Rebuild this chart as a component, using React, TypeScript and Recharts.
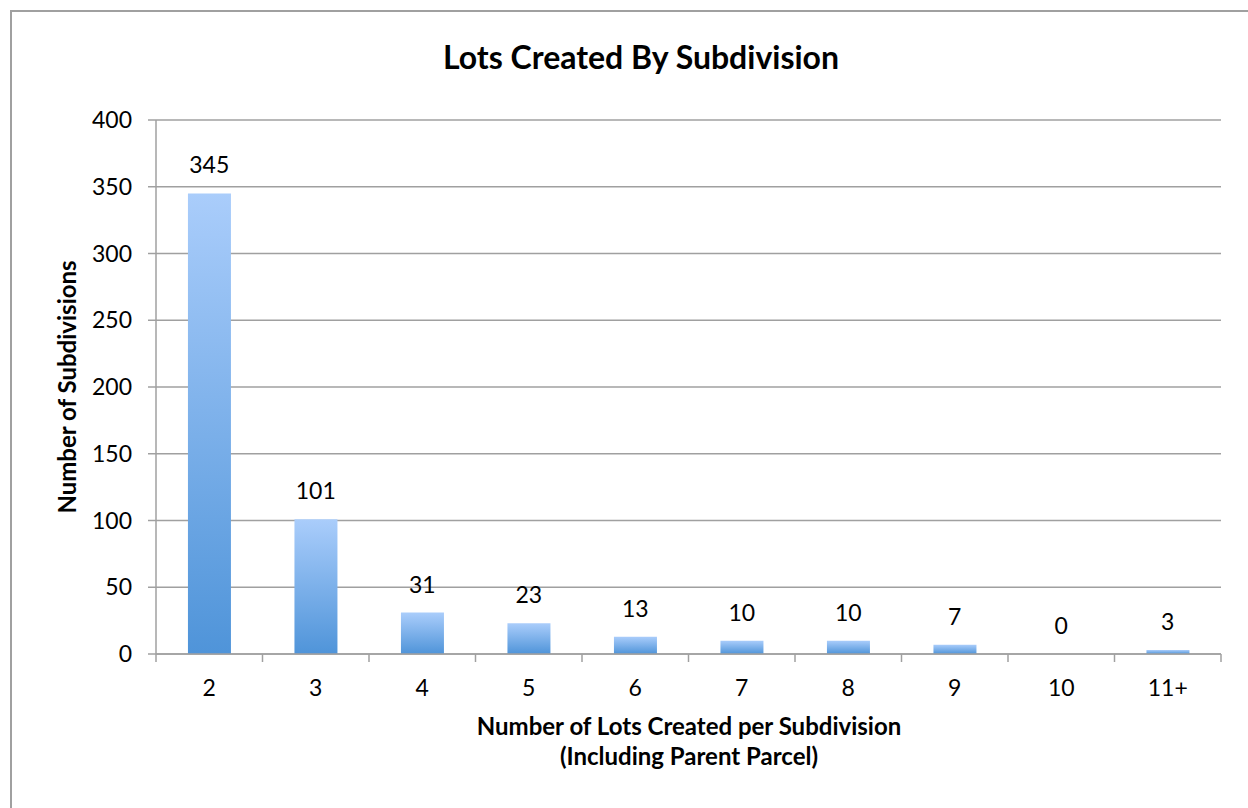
import React from "react";
import {
  ComposedChart,
  Bar,
  Line,
  XAxis,
  YAxis,
  CartesianGrid,
  LabelList,
} from "recharts";

// Lots created by subdivision: one bar per lot count, count of subdivisions on y

const categories = ["2", "3", "4", "5", "6", "7", "8", "9", "10", "11+"];
const subdivisions = [345, 101, 31, 23, 13, 10, 10, 7, 0, 3];
const yTicks = [0, 50, 100, 150, 200, 250, 300, 350, 400];

const data = categories.map((name, i) => ({ name, value: subdivisions[i] }));

const FONT = "Lato, 'Open Sans', sans-serif";
const GRID = "#a0a0a0";

const CHART_W = 1230;
const CHART_H = 790;
const X_AXIS_H = 60;
const MARGIN = { top: 108, right: 21, bottom: 148 - X_AXIS_H, left: 74 };
const Y_AXIS_W = 70;
const BAND = (CHART_W - MARGIN.left - Y_AXIS_W - MARGIN.right) / categories.length;

// x tick: label under the category, tick mark on the boundary between categories (like Excel)
const XTick = (props: any) => {
  const { x, y, payload, index } = props;
  const last = index === categories.length - 1;
  return (
    <g>
      <line x1={x - BAND / 2} x2={x - BAND / 2} y1={y - 8} y2={y} stroke={GRID} strokeWidth={1.5} />
      {last && (
        <line x1={x + BAND / 2} x2={x + BAND / 2} y1={y - 8} y2={y} stroke={GRID} strokeWidth={1.5} />
      )}
      <text x={x} y={y + 34} textAnchor="middle" fontSize={23} fontFamily={FONT} fill="#000">
        {payload.value}
      </text>
    </g>
  );
};

const App = () => {
  return (
    <div style={{ position: "fixed", left: 0, top: 0, width: 1248, height: 808, overflow: "hidden", background: "#fff" }}>
      <div
        style={{
          position: "absolute",
          left: 10,
          top: 10,
          width: 1264,
          height: 820,
          border: `2px solid ${GRID}`,
          boxSizing: "border-box",
        }}
      />
      <div
        style={{
          position: "absolute",
          left: 12,
          top: 37,
          width: 1258,
          textAlign: "center",
          fontFamily: FONT,
          fontWeight: 700,
          fontSize: 32,
          lineHeight: "40px",
          color: "#000",
        }}
      >
        Lots Created By Subdivision
      </div>
      <div style={{ position: "absolute", left: 12, top: 12 }}>
        <ComposedChart width={CHART_W} height={CHART_H} data={data} margin={MARGIN} barCategoryGap="30%">
          <defs>
            <linearGradient id="barGrad" x1="0" y1="0" x2="0" y2="1">
              <stop offset="0%" stopColor="#aacdfb" />
              <stop offset="100%" stopColor="#4f94d9" />
            </linearGradient>
          </defs>
          <CartesianGrid vertical={false} stroke={GRID} strokeWidth={1.5} />
          <XAxis
            dataKey="name"
            axisLine={{ stroke: GRID, strokeWidth: 1.5 }}
            tickLine={false}
            tick={<XTick />}
            interval={0}
            height={X_AXIS_H}
          />
          <YAxis
            domain={[0, 400]}
            ticks={yTicks}
            width={Y_AXIS_W}
            axisLine={{ stroke: GRID, strokeWidth: 1.5 }}
            tickLine={{ stroke: GRID, strokeWidth: 1.5 }}
            tickSize={8}
            tickMargin={16}
            tick={{ fontSize: 23, fontFamily: FONT, fill: "#000" }}
            label={{
              value: "Number of Subdivisions",
              angle: -90,
              position: "left",
              offset: 19,
              style: { fontSize: 24, fontWeight: 700, fontFamily: FONT, fill: "#000", textAnchor: "middle" },
            }}
          />
          <Bar dataKey="value" fill="url(#barGrad)" isAnimationActive={false} />
          {/* invisible line only carries the value labels, so the 0 gets one too */}
          <Line
            dataKey="value"
            stroke="none"
            dot={false}
            activeDot={false}
            legendType="none"
            isAnimationActive={false}
          >
            <LabelList
              dataKey="value"
              position="top"
              offset={20}
              style={{ fontSize: 23, fontFamily: FONT, fill: "#000" }}
            />
          </Line>
        </ComposedChart>
      </div>
      <div
        style={{
          position: "absolute",
          left: 12,
          top: 711,
          width: 1354,
          textAlign: "center",
          fontFamily: FONT,
          fontWeight: 700,
          fontSize: 24,
          lineHeight: "30px",
          color: "#000",
        }}
      >
        Number of Lots Created per Subdivision
        <br />
        (Including Parent Parcel)
      </div>
    </div>
  );
};

export default App;
